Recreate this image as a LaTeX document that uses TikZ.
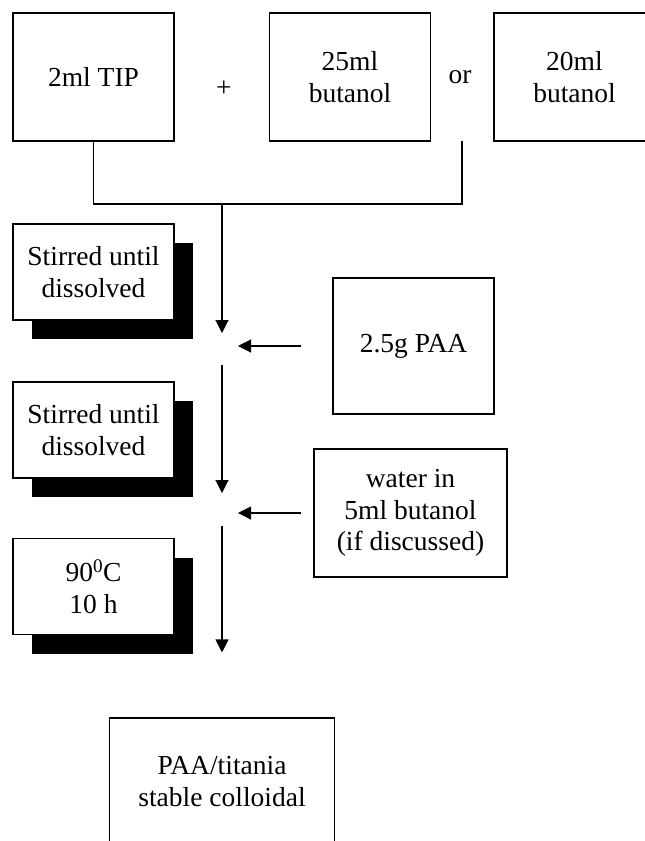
\documentclass[tikz,border=0pt]{standalone}
\usepackage{fontspec}
\setmainfont{Liberation Serif}
\usetikzlibrary{arrows.meta,shadows}

\begin{document}
\begin{tikzpicture}[x=1pt,y=-1pt,
  font=\fontsize{27.5}{31.7}\selectfont,
  every node/.style={align=center,inner sep=0pt},
  box/.style={draw,line width=1.1pt,fill=white,minimum width=161pt},
  stepbox/.style={box,minimum height=96pt,
    drop shadow={shadow xshift=19pt,shadow yshift=-19pt,opacity=1,fill=black}},
  arr/.style={-{Triangle[length=13pt,width=13pt]},line width=1.1pt}]
  \useasboundingbox (0,0) rectangle (645,841);
  % starting materials
  \node[box,minimum height=128pt] (tip) at (93.5,77) {2ml TIP};
  \node (plus) at (224,89) {+};
  \node[box,minimum height=128pt] (but25) at (350,77) {25ml\\butanol};
  \node (orword) at (460,77) {or};
  \node[box,minimum height=128pt] (but20) at (574.5,77) {20ml\\butanol};
  % treatment steps on the left
  \node[stepbox] (stir1) at (93.5,272) {Stirred until\\dissolved};
  \node[stepbox] (stir2) at (93.5,430) {Stirred until\\dissolved};
  \node[stepbox] (heat) at (93.5,586.5) {90\textsuperscript{0}C\\10 h};
  % additions on the right
  \node[box,minimum height=136pt] (paa) at (413.5,346) {2.5g PAA};
  \node[box,minimum width=193pt,minimum height=128pt] (water) at (410.5,513)
    {water in\\5ml butanol\\(if discussed)};
  \node[box,minimum width=225pt,minimum height=127pt] (final) at (222,781.5)
    {PAA/titania\\stable colloidal};
  \coordinate (join) at (222,204);
  \coordinate (alt) at (462,141);
  \coordinate (m1) at (222,346);
  \coordinate (m2) at (222,513);
  \draw[line width=1.1pt] (tip.south) |- (join) -| (alt);
  \draw[arr,shorten >=13pt] (join) -- (m1);
  \draw[arr,shorten <=31pt,shorten >=16pt] (paa.west) -- (m1);
  \draw[arr,shorten <=19pt,shorten >=20pt] (m1) -- (m2);
  \draw[arr,shorten <=12pt,shorten >=16pt] (water.west) -- (m2);
  \draw[arr,shorten <=13pt,shorten >=65pt] (m2) -- (final.north);
\end{tikzpicture}
\end{document}
